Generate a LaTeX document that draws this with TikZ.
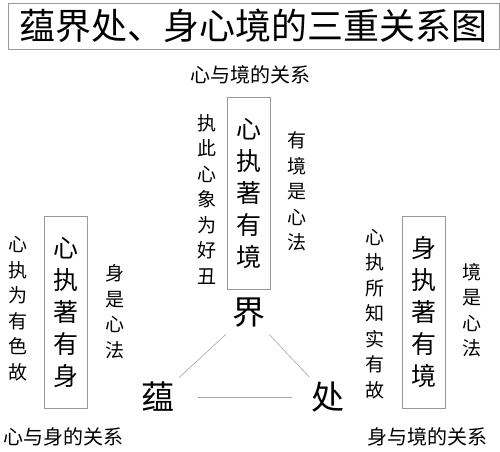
\documentclass[tikz,border=0pt]{standalone}
\usepackage{fontspec}
\newfontfamily\cjk{Noto Sans CJK SC}
\usepackage{xcolor}
\usepackage{tikz}
\usetikzlibrary{positioning}
\definecolor{framec}{HTML}{999999}
\definecolor{linec}{HTML}{A6A6A6}
\tikzset{
  vbox/.style={draw=framec,minimum width=43pt,minimum height=192pt,inner sep=0pt,align=center,font=\cjk\fontsize{25}{32}\selectfont},
  vcol/.style={align=center,inner sep=0pt,font=\cjk\fontsize{19}{25.5}\selectfont},
  rel/.style={inner sep=0pt,font=\cjk\fontsize{20}{24}\selectfont},
  big/.style={inner sep=3pt,font=\cjk\fontsize{33}{36}\selectfont},
  tie/.style={draw=linec,semithick}
}
\begin{document}
\begin{tikzpicture}[x=1pt,y=-1pt]
\useasboundingbox (0,0) rectangle (500,451);
\node[draw=framec,minimum width=491pt,minimum height=46pt,inner sep=0pt,font=\cjk\fontsize{36}{40}\selectfont] (title) at (253.5,26) {蕴界处、身心境的三重关系图};
% top: mind and object
\node[rel] (relxj) at (250,75) {心与境的关系};
\node[vbox] (xinjing) at (249,193) {心\\执\\著\\有\\境};
\node[vcol] (xjl) at (207,199) {执\\此\\心\\象\\为\\好\\丑};
\node[vcol] (xjr) at (297,191.5) {有\\境\\是\\心\\法};
% left: mind and body
\node[vbox] (xinshen) at (66,312.5) {心\\执\\著\\有\\身};
\node[vcol] (xsl) at (18,308.5) {心\\执\\为\\有\\色\\故};
\node[vcol] (xsr) at (115,311.5) {身\\是\\心\\法};
\node[rel] (relxs) at (63,437) {心与身的关系};
% right: body and object
\node[vbox] (shenjing) at (423.5,312) {身\\执\\著\\有\\境};
\node[vcol] (sjl) at (375,314) {心\\执\\所\\知\\实\\有\\故};
\node[vcol] (sjr) at (472,310) {境\\是\\心\\法};
\node[rel] (relsj) at (427,437) {身与境的关系};
% triangle
\node[big] (jie) at (249,313) {界};
\node[big] (yun) at (158,397) {蕴};
\node[big] (chu) at (328,397) {处};
\draw[tie,shorten <=5pt,shorten >=2pt] (jie) -- (yun);
\draw[tie,shorten <=5pt,shorten >=2pt] (jie) -- (chu);
\draw[tie,shorten <=20pt,shorten >=16pt] (yun) -- (chu);
\end{tikzpicture}
\end{document}
